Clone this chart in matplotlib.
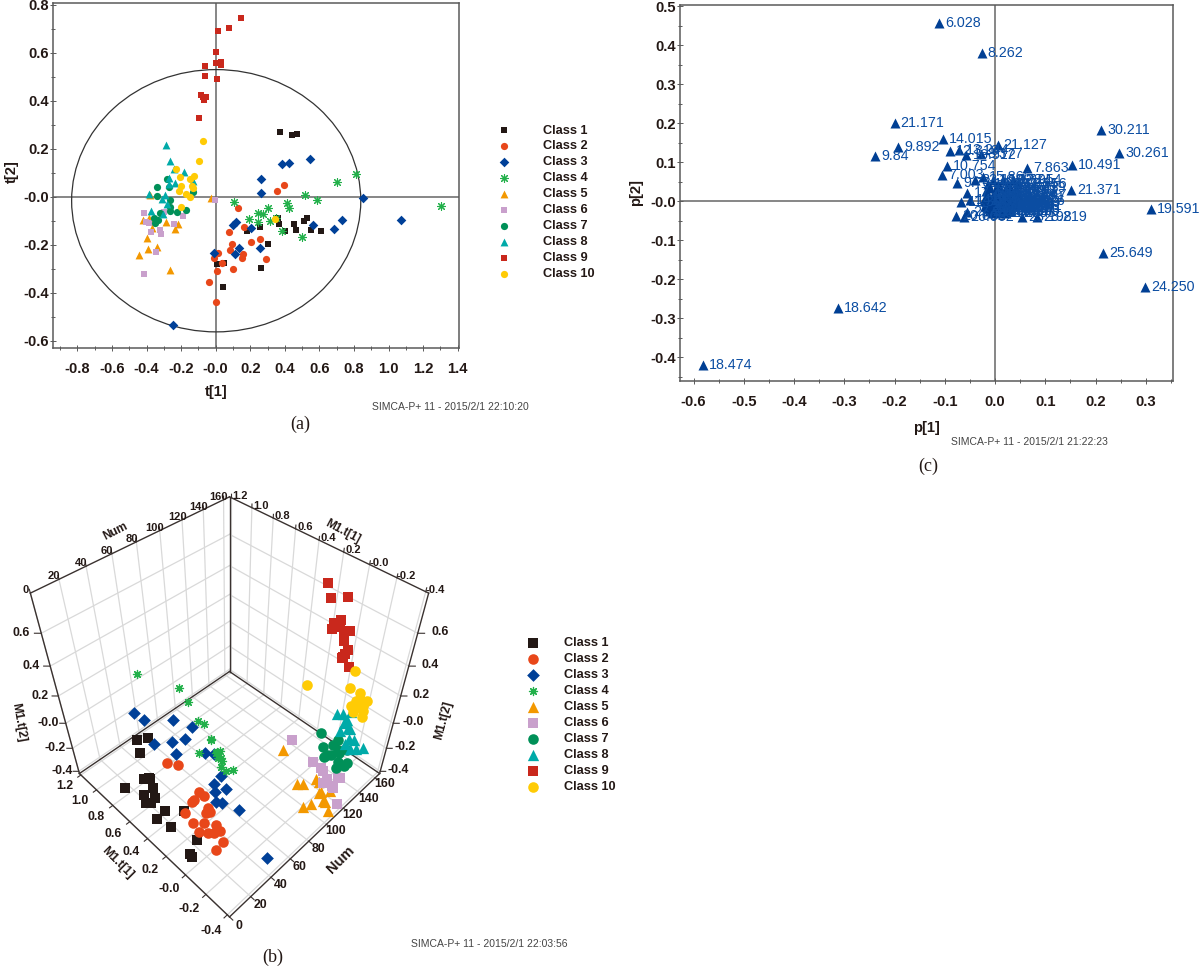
import matplotlib
matplotlib.use("Agg")
import matplotlib.pyplot as plt
from matplotlib.patches import Ellipse

plt.rcParams['font.family'] = ['Liberation Sans', 'DejaVu Sans']

W, H = 1200, 973

class_names = ['Class 1', 'Class 2', 'Class 3', 'Class 4', 'Class 5',
               'Class 6', 'Class 7', 'Class 8', 'Class 9', 'Class 10']
class_colors = ['#231815', '#e8471a', '#004098', '#22b04a', '#f39800',
                '#c9a0cc', '#009058', '#00aaa8', '#c9281c', '#ffcb05']
class_markers = ['s', 'o', 'D', (8, 2, 0), '^', 's', 'o', '^', 's', 'o']
size_a = [22, 27, 24, 32, 32, 22, 27, 32, 22, 27]
size_b = [50, 58, 42, 34, 66, 50, 58, 66, 50, 58]

# Score plot t[1]/t[2], one pair of lists per class
t1_c1 = [.374, .44, .47, .361, .368, .401, .453, .465, .511, .53, .55, .609, .256, .179, .303, .264, .048, .01, .042]
t2_c1 = [.270, .257, .261, -.088, -.115, -.143, -.115, -.139, -.102, -.088, -.139, -.143, -.125, -.143, -.196, -.299, -.275, -.281, -.378]
t1_c2 = [.393, .355, .127, .166, .075, .256, .204, .093, .081, .16, .152, .015, -.01, .289, .035, .01, .102, -.037, .004]
t2_c2 = [.049, .025, -.046, -.125, -.149, -.177, -.191, -.196, -.224, -.238, -.256, -.234, -.256, -.261, -.275, -.309, -.303, -.356, -.44]
t1_c3 = [.544, .386, .426, .262, .262, .854, 1.07, .731, .685, .563, .202, .118, .098, .256, .133, .114, -.01, -.245]
t2_c3 = [.159, .136, .14, .075, .014, -.006, -.099, -.099, -.135, -.118, -.129, -.107, -.118, -.216, -.216, -.239, -.234, -.535]
t1_c4 = [1.304, .81, .70, .515, .586, .411, .424, .301, .243, .272, .243, .191, .106, .314, .349, .386, .497]
t2_c4 = [-.038, .095, .061, .008, -.015, -.028, -.049, -.049, -.067, -.071, -.104, -.095, -.024, -.1, -.09, -.142, -.167]
t1_c5 = [-.027, -.38, -.418, -.384, -.37, -.287, -.22, -.235, -.399, -.391, -.339, -.443, -.266]
t2_c5 = [-.007, .007, -.097, -.09, -.132, -.107, -.114, -.135, -.172, -.217, -.209, -.242, -.307]
t1_c6 = [-.002, -.413, -.405, -.384, -.297, -.191, -.243, -.322, -.314, -.376, -.347, -.413]
t2_c6 = [-.013, -.07, -.106, -.111, -.065, -.082, -.115, -.139, -.157, -.149, -.232, -.323]
t1_c7 = [-.341, -.284, -.27, -.341, -.262, -.133, -.264, -.262, -.226, -.172, -.322, -.357, -.332, -.351]
t2_c7 = [.04, .072, .039, .001, -.015, .021, -.045, -.058, -.064, -.054, -.07, -.09, -.096, -.111]
t1_c8 = [-.287, -.266, -.243, -.181, -.272, -.268, -.237, -.129, -.384, -.295, -.312, -.282, -.372, -.307]
t2_c8 = [.214, .147, .114, .102, .079, .053, .056, .067, .011, .006, -.01, -.031, -.058, -.074]
t1_c9 = [.147, .077, .015, .004, .0, .031, .029, -.062, -.062, .01, -.085, -.071, -.054, -.069, -.094]
t2_c9 = [.744, .702, .693, .602, .556, .563, .549, .547, .505, .491, .424, .417, .414, .403, .327]
t1_c10 = [-.075, -.094, -.231, -.204, -.127, -.147, -.199, -.139, -.129, -.212, -.174, -.147, -.199, .341]
t2_c10 = [.232, .149, .114, .082, .086, .072, .045, .045, .035, .025, .011, -.001, -.045, -.092]

# Sample number of each observation (used by the 3-D score plot)
num_c1 = [3, 15, 9, 1, 5, 11, 14, 7, 17, 13, 19, 2, 8, 18, 4, 12, 16, 6, 10]
num_c2 = [24, 30, 21, 35, 28, 38, 20, 33, 26, 37, 22, 31, 27, 36, 25, 34, 23, 32, 29]
num_c3 = [44, 40, 50, 46, 54, 42, 48, 39, 52, 45, 55, 41, 49, 53, 43, 47, 51, 56]
num_c4 = [72, 73, 71, 69, 70, 66, 67, 64, 60, 62, 59, 58, 57, 63, 65, 68, 61]
num_c5 = [92, 87, 96, 89, 94, 98, 86, 91, 93, 97, 88, 95, 90]
num_c6 = [104, 107, 101, 110, 103, 106, 109, 102, 108, 105, 112, 111]
num_c7 = [112, 118, 115, 122, 111, 120, 116, 124, 113, 119, 117, 123, 114, 121]
num_c8 = [128, 125, 132, 136, 130, 134, 127, 137, 126, 131, 135, 129, 138, 133]
num_c9 = [145, 140, 150, 137, 143, 148, 139, 146, 141, 151, 138, 144, 149, 142, 147]
num_c10 = [160, 154, 157, 152, 163, 156, 159, 153, 165, 158, 162, 155, 161, 164]

t1_all = [t1_c1, t1_c2, t1_c3, t1_c4, t1_c5, t1_c6, t1_c7, t1_c8, t1_c9, t1_c10]
t2_all = [t2_c1, t2_c2, t2_c3, t2_c4, t2_c5, t2_c6, t2_c7, t2_c8, t2_c9, t2_c10]
num_all = [num_c1, num_c2, num_c3, num_c4, num_c5, num_c6, num_c7, num_c8, num_c9, num_c10]

# Loading plot p[1]/p[2]
p_labels = ['6.028', '8.262', '21.171', '14.015', '9.892', '9.84', '21.127', '30.211', '30.261', '10.491',
            '7.863', '21.371', '19.591', '25.649', '24.250', '18.642', '18.474', '10.754', '7.003', '9.731',
            '12.310', '13.244', '16.512', '8.377', '15.866', '17.402', '26.062', '20.662', '23.198', '23.219',
            '14.621', '11.305', '22.118', '27.219', '16.028', '13.774', '12.954', '19.087', '8.641', '20.334',
            '17.956', '25.110', '11.867', '15.243', '24.519', '7.426', '18.205', '21.690', '9.358', '28.034',
            '10.127', '14.288', '22.547', '16.793', '6.914', '12.402', '19.663', '23.871', '17.015', '26.330',
            '13.109', '15.497', '20.908', '8.954', '11.052', '24.776', '18.883', '27.564', '16.340', '22.801',
            '9.175', '14.957', '21.224', '12.688', '25.902', '19.319', '7.718', '17.641', '23.436', '10.862',
            '20.129', '15.720', '13.533', '26.745', '11.590', '18.017', '22.265', '8.108', '16.284', '24.093']
p1 = [-.112, -.027, -.2, -.103, -.193, -.239, .005, .211, .247, .153,
      .064, .152, .31, .215, .298, -.313, -.581, -.096, -.106, -.075,
      -.090, -.071, -.057, -.028, -.025, -.055, -.062, -.077, .054, .084,
      -.050, -.067, -.040, -.055,
      -.005, .015, .035,
      -.015, .005, .025, .045,
      -.01, .01, .03, .042,
      -.018, .0, .02, .04,
      -.015, .005, .025, .045,
      -.02, -.005, .01, .03, .04,
      -.022, -.01, .0, .01, .02, .025, .03, .04,
      -.018, -.005, .008, .018, .028, .038,
      -.02, -.01, .0, .012, .024, .036,
      -.016, -.004, .008, .02, .032,
      -.012, .002, .016, .03,
      -.006, .01, .022]
p2 = [.457, .381, .2, .159, .138, .116, .144, .183, .124, .092,
      .084, .028, -.019, -.133, -.221, -.273, -.419, .091, .067, .047,
      .128, .130, .119, .122, .062, .022, -.04, -.037, -.04, -.04,
      .002, -.002, .055, -.028,
      .055, .055, .055,
      .045, .045, .045, .045,
      .035, .035, .035, .035,
      .025, .025, .025, .025,
      .015, .015, .015, .015,
      .008, .008, .008, .008, .008,
      .0, .0, .0, .0, .0, .0, .0, .0,
      -.006, -.006, -.006, -.006, -.006, -.006,
      -.012, -.012, -.012, -.012, -.012, -.012,
      -.018, -.018, -.018, -.018, -.018,
      -.024, -.024, -.024, -.024,
      -.03, -.03, -.03]

xt_a = [-.8, -.6, -.4, -.2, 0, .2, .4, .6, .8, 1.0, 1.2, 1.4]
xl_a = ['-0.8', '-0.6', '-0.4', '-0.2', '-0.0', '0.2', '0.4', '0.6', '0.8', '1.0', '1.2', '1.4']
xm_a = [-.9, -.7, -.5, -.3, -.1, .1, .3, .5, .7, .9, 1.1, 1.3]
yt_a = [-.6, -.4, -.2, 0, .2, .4, .6, .8]
yl_a = ['-0.6', '-0.4', '-0.2', '-0.0', '0.2', '0.4', '0.6', '0.8']
ym_a = [-.5, -.3, -.1, .1, .3, .5, .7]
xt_c = [-.6, -.5, -.4, -.3, -.2, -.1, 0, .1, .2, .3]
xl_c = ['-0.6', '-0.5', '-0.4', '-0.3', '-0.2', '-0.1', '0.0', '0.1', '0.2', '0.3']
xm_c = [-.55, -.45, -.35, -.25, -.15, -.05, .05, .15, .25, .35]
yt_c = [-.4, -.3, -.2, -.1, 0, .1, .2, .3, .4, .5]
yl_c = ['-0.4', '-0.3', '-0.2', '-0.1', '-0.0', '0.1', '0.2', '0.3', '0.4', '0.5']
ym_c = [-.45, -.35, -.25, -.15, -.05, .05, .15, .25, .35, .45]

num_ticks = [0, 20, 40, 60, 80, 100, 120, 140, 160]
num_ticklabels = ['0', '20', '40', '60', '80', '100', '120', '140', '160']
t1_ticks = [-.4, -.2, 0, .2, .4, .6, .8, 1.0, 1.2]
t1_ticklabels = ['-0.4', '-0.2', '-0.0', '0.2', '0.4', '0.6', '0.8', '1.0', '1.2']
t2_ticks = [-.4, -.2, 0, .2, .4, .6]
t2_ticklabels = ['-0.4', '-0.2', '-0.0', '0.2', '0.4', '0.6']

FRAME = '#5a5a5a'
TEXT = '#231815'


def px_rect(l, t, r, b):
    return [l / W, 1 - b / H, (r - l) / W, (b - t) / H]


def fx(x):
    return x / W


def fy(y):
    return 1 - y / H


def style2d(ax, xt, xl, xm, yt, yl, ym):
    for s in ax.spines.values():
        s.set_color(FRAME)
        s.set_linewidth(1.1)
    ax.set_xticks(xt, xl, fontsize=10.6, fontweight='bold', color=TEXT)
    ax.set_yticks(yt, yl, fontsize=10.6, fontweight='bold', color=TEXT)
    ax.set_xticks(xm, minor=True)
    ax.set_yticks(ym, minor=True)
    ax.tick_params(axis='both', which='major', direction='inout', length=4.5, width=.7, color=FRAME)
    ax.tick_params(axis='both', which='minor', direction='inout', length=3.2, width=.7, color=FRAME)
    ax.tick_params(axis='x', which='major', pad=8)
    ax.tick_params(axis='y', which='major', pad=.8)
    ax.axhline(0, color='#666666', lw=1.1, zorder=1)
    ax.axvline(0, color='#666666', lw=1.1, zorder=1)


fig = plt.figure(figsize=(W / 100, H / 100), dpi=100, facecolor='white')

# ---------- (a) ----------
ax_a = fig.add_axes(px_rect(53.3, 2.7, 459, 347.7))
ax_a.set_xlim(-.939, 1.407)
ax_a.set_ylim(-.63, .809)
style2d(ax_a, xt_a, xl_a, xm_a, yt_a, yl_a, ym_a)
ax_a.add_patch(Ellipse((.003, -.017), 2 * .836, 2 * .547, fill=False, ec='#333333', lw=.9, zorder=1.5))
for i in range(10):
    ax_a.scatter(t1_all[i], t2_all[i], marker=class_markers[i], s=size_a[i], color=class_colors[i],
                 linewidths=.8 if i == 3 else 0, label=class_names[i], zorder=3 + i * .01)
ax_a.set_xlabel('t[1]', fontsize=10.6, fontweight='bold', color=TEXT, va='center')
ax_a.xaxis.set_label_coords((216 - 53.3) / 405.7, (347.7 - 392) / 345)
ax_a.set_ylabel('t[2]', fontsize=10.6, fontweight='bold', color=TEXT, va='center')
ax_a.yaxis.set_label_coords((12 - 53.3) / 405.7, (347.7 - 172) / 345)
ax_a.legend(loc='upper left', bbox_to_anchor=(fx(497.5), fy(124.5)), bbox_transform=fig.transFigure,
            frameon=False, scatterpoints=1, prop={'weight': 'bold', 'size': 9.2}, labelcolor=TEXT,
            borderpad=0, borderaxespad=0, handlelength=1.0, handletextpad=2.55, labelspacing=.31)

# ---------- (c) ----------
ax_c = fig.add_axes(px_rect(680, 5, 1173, 381))
ax_c.set_xlim(-.627, .354)
ax_c.set_ylim(-.461, .503)
style2d(ax_c, xt_c, xl_c, xm_c, yt_c, yl_c, ym_c)
ax_c.scatter(p1, p2, marker='^', s=52, color='#003f94', linewidths=0, zorder=3)
for x, y, s in zip(p1, p2, p_labels):
    ax_c.annotate(s, (x, y), xytext=(4.3, 0), textcoords='offset points', va='center', ha='left',
                  fontsize=10.3, color='#0b4da2', zorder=4, annotation_clip=False)
ax_c.set_xlabel('p[1]', fontsize=10.6, fontweight='bold', color=TEXT, va='center')
ax_c.xaxis.set_label_coords((927 - 680) / 493, (381 - 428) / 376)
ax_c.set_ylabel('p[2]', fontsize=10.6, fontweight='bold', color=TEXT, va='center')
ax_c.yaxis.set_label_coords((636 - 680) / 493, (381 - 193) / 376)

# ---------- (b) ----------
side = 411.6
cx, cy = 229.5, 696
left = cx - .5135 * side
bottom = cy + .5135 * side
ax_b = fig.add_axes(px_rect(left, bottom - side, left + side, bottom), projection='3d')
ax_b.computed_zorder = False
ax_b.set_proj_type('persp', focal_length=.283)
ax_b.view_init(elev=45, azim=-135)
ax_b.set_box_aspect((242, 242, 250))
xa, xb = 0, 166
ya, yb = -.42, 1.22
za, zb = -.42, .82
ax_b.set_xlim(xa, xb)
ax_b.set_ylim(ya, yb)
ax_b.set_zlim(za, zb)
ax_b.set_axis_off()
ax_b.patch.set_alpha(0)

GRID = dict(color='#d9d9d9', lw=.9, zorder=1, clip_on=False)
for n in num_ticks:
    ax_b.plot([n, n], [ya, yb], [za, za], **GRID)
    ax_b.plot([n, n], [yb, yb], [za, zb], **GRID)
for t in t1_ticks:
    ax_b.plot([xa, xb], [t, t], [za, za], **GRID)
    ax_b.plot([xb, xb], [t, t], [za, zb], **GRID)
for z in t2_ticks:
    ax_b.plot([xa, xb], [yb, yb], [z, z], **GRID)
    ax_b.plot([xb, xb], [ya, yb], [z, z], **GRID)

EDGE = dict(color='#3a3230', lw=1.0, zorder=2, clip_on=False)
ax_b.plot([xa, xb], [ya, ya], [za, za], **EDGE)
ax_b.plot([xa, xa], [ya, yb], [za, za], **EDGE)
ax_b.plot([xa, xb], [yb, yb], [za, za], **EDGE)
ax_b.plot([xb, xb], [ya, yb], [za, za], **EDGE)
ax_b.plot([xb, xb], [yb, yb], [za, zb], **EDGE)
ax_b.plot([xa, xa], [yb, yb], [za, zb], **EDGE)
ax_b.plot([xb, xb], [ya, ya], [za, zb], **EDGE)
ax_b.plot([xa, xb], [yb, yb], [zb, zb], **EDGE)
ax_b.plot([xb, xb], [ya, yb], [zb, zb], **EDGE)

TICK = dict(color='#3a3230', lw=.8, zorder=2, clip_on=False)
LAB = dict(fontsize=8.8, fontweight='bold', color=TEXT, ha='center', va='center', zorder=5)
for n, s in zip(num_ticks, num_ticklabels):
    ax_b.plot([n, n], [ya, ya - .03], [za, za], **TICK)
    ax_b.text(n, ya - .085, za, s, rotation=45, **LAB)
    ax_b.plot([n, n], [yb, yb], [zb, zb + .02], **TICK)
    ax_b.text(n, yb + .05, zb, s, rotation=27, **{**LAB, 'fontsize': 8.0})
for t, s in zip(t1_ticks, t1_ticklabels):
    ax_b.plot([xa, xa - 3], [t, t], [za, za], **TICK)
    ax_b.text(xa - 15, t, za, s, rotation=-42, **LAB)
    ax_b.plot([xb, xb], [t, t], [zb, zb + .02], **TICK)
    ax_b.text(xb + 6, t - .03, zb, s, rotation=-27, **{**LAB, 'fontsize': 8.0})
for z, s in zip(t2_ticks, t2_ticklabels):
    ax_b.plot([xa, xa - 3], [yb, yb + .03], [z, z], **TICK)
    ax_b.text(xa - 9, yb + .09, z, s, rotation=17, **LAB)
    ax_b.plot([xb, xb + 3], [ya, ya - .03], [z, z], **TICK)
    ax_b.text(xb + 11, ya - .09, z, s, rotation=-17, **LAB)

fig.text(fx(117), fy(863), 'M1.t[1]', rotation=-45, **LAB)
fig.text(fx(341), fy(860), 'Num', rotation=45, **{**LAB, 'fontsize': 10.5})
fig.text(fx(115), fy(531), 'Num', rotation=27, **{**LAB, 'fontsize': 8.5})
fig.text(fx(343), fy(532), 'M1.t[1]', rotation=-28, **{**LAB, 'fontsize': 8.5})
fig.text(fx(18), fy(722), 'M1.t[2]', rotation=-80, **LAB)
fig.text(fx(443), fy(720), 'M1.t[2]', rotation=75, **LAB)

for i in range(10):
    ax_b.scatter(num_all[i], t1_all[i], t2_all[i], marker=class_markers[i], s=size_b[i],
                 color=class_colors[i], linewidths=.9 if i == 3 else 0, depthshade=False,
                 label=class_names[i], zorder=6 + i * .01, clip_on=False)
ax_b.legend(loc='upper left', bbox_to_anchor=(fx(526.5), fy(637.5)), bbox_transform=fig.transFigure,
            frameon=False, scatterpoints=1, prop={'weight': 'bold', 'size': 9.2}, labelcolor=TEXT,
            borderpad=0, borderaxespad=0, handlelength=1.0, handletextpad=1.95, labelspacing=.31)

# ---------- stamps and panel letters ----------
stamp = dict(fontsize=7.5, color='#444444', ha='center', va='center')
fig.text(fx(450), fy(407), 'SIMCA-P+ 11 - 2015/2/1 22:10:20', **stamp)
fig.text(fx(1029), fy(442), 'SIMCA-P+ 11 - 2015/2/1 21:22:23', **stamp)
fig.text(fx(489), fy(944), 'SIMCA-P+ 11 - 2015/2/1 22:03:56', **stamp)
letter = dict(fontsize=13, family='Liberation Serif', color=TEXT, ha='center', va='center')
fig.text(fx(300), fy(424), '(a)', **letter)
fig.text(fx(928), fy(466), '(c)', **letter)
fig.text(fx(273), fy(957), '(b)', **letter)

fig.savefig('out.png', dpi=100, facecolor='white')
